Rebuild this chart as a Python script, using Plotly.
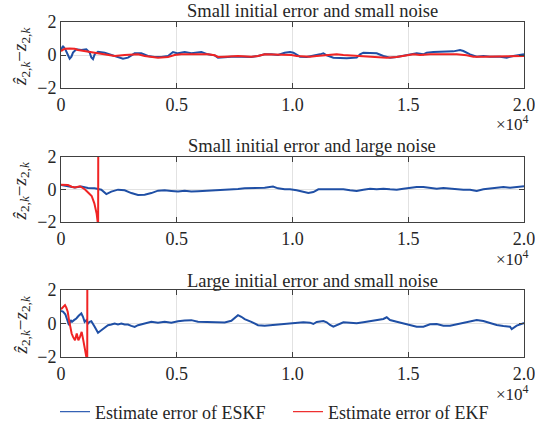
import plotly.graph_objects as go

# ---------------- data ----------------
titles = ["Small initial error and small noise",
          "Small initial error and large noise",
          "Large initial error and small noise"]
x_tickvals = [0, 5000, 10000, 15000, 20000]
x_ticktext = ["0", "0.5", "1.0", "1.5", "2.0"]
y_tickvals = [-2, 0, 2]
y_ticktext = ["\u22122", "0", "2"]
legend_names = ["Estimate error of ESKF", "Estimate error of EKF"]

p1_blue_x = [0, 86, 200, 302, 374, 450, 518, 662, 878, 1094, 1238, 1310, 1382, 1454, 1598, 1886, 2174, 2462, 2678, 2894,
             3182, 3470, 3758, 4046, 4334, 4622, 4838, 5054, 5342, 5630, 6062, 6350, 6638, 6782, 7070, 7358, 7790, 8222, 8510, 8798,
             9086, 9374, 9662, 9893, 10037, 10181, 10325, 10613, 10901, 11189, 11333, 11477, 11765, 12053, 12341, 12773, 12917, 13061, 13349, 13637,
             13925, 14213, 14501, 14789, 15077, 15365, 15653, 15797, 16085, 16517, 16949, 17237, 17381, 17669, 17957, 18245, 18533, 18965, 19253, 19541,
             19829, 20000]
p1_blue_y = [0.3, 0.55, 0.3, -0.05, -0.22, -0.1, 0.15, 0.35, 0.3, 0.35, 0.15, -0.15, -0.25, 0.04, 0.2, 0.14, 0.0, -0.12, -0.22, -0.16,
             0.1, 0.1, -0.06, -0.12, -0.12, -0.06, 0.18, 0.1, 0.18, 0.1, 0.18, 0.04, -0.02, -0.16, -0.12, -0.1, -0.1, -0.12, -0.06, 0.04,
             0.04, 0.0, 0.14, 0.18, 0.14, 0.04, -0.1, -0.12, -0.06, 0.04, 0.1, -0.02, -0.16, -0.2, -0.2, -0.16, 0.04, 0.14, 0.1, 0.1,
             -0.06, -0.16, -0.12, -0.06, 0.04, 0.1, 0.04, 0.14, 0.18, 0.2, 0.22, 0.3, 0.24, 0.04, -0.1, -0.06, -0.1, -0.1, -0.16, -0.06,
             -0.02, 0.04]
p1_red_x = [0, 158, 374, 590, 734, 1022, 1310, 1598, 2030, 2318, 2750, 3038, 3326, 3614, 3902, 4190, 4622, 4910, 5198, 5630,
            6350, 6638, 6782, 7070, 7646, 8222, 8510, 8798, 9086, 9374, 9950, 10181, 10469, 10757, 11045, 11333, 11621, 11909, 12197, 12773,
            13205, 13637, 14069, 14501, 14933, 15221, 15509, 15941, 16517, 17093, 17525, 17813, 18245, 18821, 19253, 20000]
p1_red_y = [0.24, 0.38, 0.4, 0.38, 0.3, 0.24, 0.18, 0.1, 0.0, -0.06, 0.0, 0.04, 0.04, -0.06, -0.12, -0.16, -0.12, 0.0, 0.04, 0.04,
            0.04, -0.02, -0.12, -0.1, -0.06, -0.1, -0.06, 0.04, 0.04, 0.0, 0.0, -0.06, -0.1, -0.1, -0.06, -0.02, 0.0, 0.04, 0.0, -0.06,
            -0.1, -0.12, -0.16, -0.12, -0.02, 0.04, 0.0, 0.04, 0.04, 0.04, -0.02, -0.1, -0.1, -0.1, -0.1, -0.06]

p2_blue_x = [0, 302, 590, 878, 1166, 1454, 1742, 1958, 2174, 2462, 2750, 3038, 3326, 3614, 3902, 4190, 4478, 4766, 5054, 5342,
             5630, 5918, 6206, 6494, 6782, 7070, 7358, 7646, 7934, 8222, 8510, 8798, 9158, 9374, 9662, 9893, 10181, 10469, 10685, 10901,
             11117, 11333, 11765, 12197, 12485, 12773, 13061, 13349, 13637, 13925, 14213, 14501, 14789, 15077, 15365, 15653, 15941, 16229, 16517, 16805,
             17093, 17381, 17669, 17957, 18245, 18533, 18821, 19109, 19397, 19685, 19973, 20000]
p2_blue_y = [0.28, 0.2, 0.13, 0.18, 0.09, 0.07, -0.01, -0.28, -0.13, -0.01, -0.05, -0.22, -0.34, -0.32, -0.22, -0.07, -0.05, -0.09, -0.13, -0.07,
             -0.13, -0.11, -0.09, -0.07, -0.05, -0.05, -0.01, 0.03, 0.07, 0.09, 0.07, 0.11, 0.18, 0.07, 0.01, 0.01, -0.05, -0.16, -0.22, -0.16,
             0.01, 0.01, -0.01, 0.01, -0.05, -0.09, -0.01, 0.05, 0.01, 0.05, 0.01, -0.01, 0.05, 0.11, 0.16, 0.16, 0.09, 0.05, 0.09, 0.05,
             0.05, -0.01, -0.01, -0.09, 0.01, 0.05, 0.11, 0.16, 0.11, 0.16, 0.22, 0.2]
p2_red_x = [0, 150, 300, 461, 605, 821, 1037, 1181, 1325, 1440, 1541, 1584, 1600, 1613]
p2_red_y = [0.3, 0.3, 0.28, 0.17, 0.12, 0.2, 0.0, -0.2, -0.4, -0.85, -1.5, -2.0, -6.0, 6.0]

p3_blue_x = [0, 86, 187, 274, 346, 418, 475, 562, 662, 763, 878, 950, 1022, 1094, 1166, 1238, 1310, 1454, 1598, 1742,
             1886, 2030, 2174, 2318, 2462, 2606, 2750, 2894, 3038, 3182, 3326, 3614, 3902, 4190, 4478, 4766, 5054, 5342, 5630, 5918,
             6206, 6494, 6782, 7070, 7358, 7502, 7646, 7790, 7934, 8222, 8510, 8798, 9086, 9374, 9662, 9950,
             10181, 10469, 10757, 10901, 11045, 11333, 11477, 11621, 11765, 11909, 12197, 12485, 12773, 13061, 13349, 13637, 13925, 14069, 14213, 14501,
             14789, 15077, 15365, 15653, 15941, 16229, 16517, 16805, 17093, 17381, 17669, 17957, 18245, 18533, 18821, 19109, 19397, 19469, 19685, 19973, 20000]
p3_blue_y = [0.75, 0.71, 0.55, 0.2, -0.1, 0.2, 0.1, 0.2, 0.3, 0.46, 0.6, 0.4, 0.1, 0.2, 0.0, 0.1, 0.14, -0.2, -0.55, -0.4,
             -0.26, -0.1, -0.06, 0.0, -0.06, 0.0, -0.06, -0.06, -0.14, -0.2, -0.1, 0.0, 0.1, 0.04, 0.1, 0.04, 0.14, 0.18, 0.2, 0.1,
             0.1, 0.06, 0.1, 0.06, 0.16, 0.34, 0.5, 0.4, 0.26, 0.1, -0.1, -0.14, -0.1, -0.06, -0.02, 0.0,
             0.07, 0.07, 0.05, -0.03, 0.09, 0.15, 0.07, -0.09, -0.19, -0.09, 0.07, 0.05, 0.01, 0.07, 0.15, 0.21, 0.27, 0.37, 0.21, 0.11,
             0.01, -0.05, -0.19, -0.19, -0.05, -0.03, -0.13, -0.13, -0.05, 0.07, 0.15, 0.21, 0.15, 0.01, -0.09, -0.15, -0.19, -0.33, -0.13, 0.01, 0.01]
p3_red_x = [0, 100, 173, 230, 290, 346, 400, 460, 520, 605, 680, 750, 820, 893, 950, 1000, 1060, 1109, 1130, 1140]
p3_red_y = [0.85, 1.0, 1.1, 0.95, 0.7, 0.2, -0.3, -0.6, -0.8, -1.0, -0.6, -1.0, -0.8, -0.5, -0.9, -1.3, -1.8, -2.1, -6.0, 6.0]

blue_series = [(p1_blue_x, p1_blue_y), (p2_blue_x, p2_blue_y), (p3_blue_x, p3_blue_y)]
red_series = [(p1_red_x, p1_red_y), (p2_red_x, p2_red_y), (p3_red_x, p3_red_y)]

# ---------------- style ----------------
W, H = 535, 429
ML, MR = 61, 11
PW = W - ML - MR
FONT = "Liberation Serif"
TXT = "#262626"
AX = "#404040"
BLUE = "#1f4fa5"
RED = "#f02424"
panel_px = [(22, 88), (157, 222), (290, 357)]  # top, bottom pixel rows
title_px = [11, 146, 281]
x10_px = [123, 258, 393]


def py(p):
    return 1 - p / H


def px(p):
    return (p - ML) / PW


fig = go.Figure()
annotations = []
for i in range(3):
    xa = "x" if i == 0 else f"x{i+1}"
    ya = "y" if i == 0 else f"y{i+1}"
    bx, by = blue_series[i]
    rx, ry = red_series[i]
    fig.add_trace(go.Scatter(x=bx, y=by, mode="lines", line=dict(color=BLUE, width=2),
                             xaxis=xa, yaxis=ya, showlegend=False, hoverinfo="skip"))
    fig.add_trace(go.Scatter(x=rx, y=ry, mode="lines", line=dict(color=RED, width=2),
                             xaxis=xa, yaxis=ya, showlegend=False, hoverinfo="skip"))
    top, bot = panel_px[i]
    axis_common = dict(showline=True, linecolor=AX, linewidth=1, mirror="ticks",
                       ticks="inside", ticklen=5, tickcolor=AX, tickwidth=1,
                       showgrid=True, gridcolor="#e2e2e2", gridwidth=1, zeroline=False,
                       ticklabeloverflow="allow",
                       tickfont=dict(family=FONT, size=18, color=TXT))
    fig.update_layout(**{
        ("xaxis" if i == 0 else f"xaxis{i+1}"): dict(domain=[0, 1], range=[0, 20000], anchor=ya,
                                                     tickmode="array", tickvals=x_tickvals, ticktext=x_ticktext,
                                                     **axis_common),
        ("yaxis" if i == 0 else f"yaxis{i+1}"): dict(domain=[py(bot), py(top)], range=[-2, 2], anchor=xa,
                                                     tickmode="array", tickvals=y_tickvals, ticktext=y_ticktext,
                                                     **axis_common),
    })
    annotations.append(dict(text=titles[i], x=px(312), y=py(title_px[i]), xref="paper", yref="paper",
                            xanchor="center", yanchor="middle", showarrow=False,
                            font=dict(family=FONT, size=18.5, color=TXT)))
    annotations.append(dict(text="\u00d710<sup>4</sup>", x=px(531), y=py(x10_px[i]), xref="paper", yref="paper",
                            xanchor="right", yanchor="middle", showarrow=False,
                            font=dict(family=FONT, size=17, color=TXT)))
    annotations.append(dict(text="<i>\u1e91</i><sub>2,<i>k</i></sub>\u2212<i>z</i><sub>2,<i>k</i></sub>",
                            x=px(21), y=py((top + bot) / 2 + 2), xref="paper", yref="paper",
                            xanchor="center", yanchor="middle", showarrow=False, textangle=-90,
                            font=dict(family=FONT, size=19, color=TXT)))

# legend-only traces
fig.add_trace(go.Scatter(x=[None], y=[None], mode="lines", name=legend_names[0],
                         line=dict(color="#3562b5", width=1.2)))
fig.add_trace(go.Scatter(x=[None], y=[None], mode="lines", name=legend_names[1],
                         line=dict(color="#ee3030", width=1.2)))

fig.update_layout(
    width=W, height=H,
    margin=dict(l=ML, r=MR, t=0, b=0, autoexpand=False),
    paper_bgcolor="white", plot_bgcolor="white",
    annotations=annotations,
    font=dict(family=FONT, color=TXT),
    legend=dict(orientation="h", xref="container", yref="container", x=55 / W, y=1 - 412 / H,
                xanchor="left", yanchor="middle",
                font=dict(family=FONT, size=18, color=TXT), entrywidth=188, entrywidthmode="pixels",
                bgcolor="rgba(0,0,0,0)", tracegroupgap=0, itemwidth=30),
)

fig.write_html("out.html")
